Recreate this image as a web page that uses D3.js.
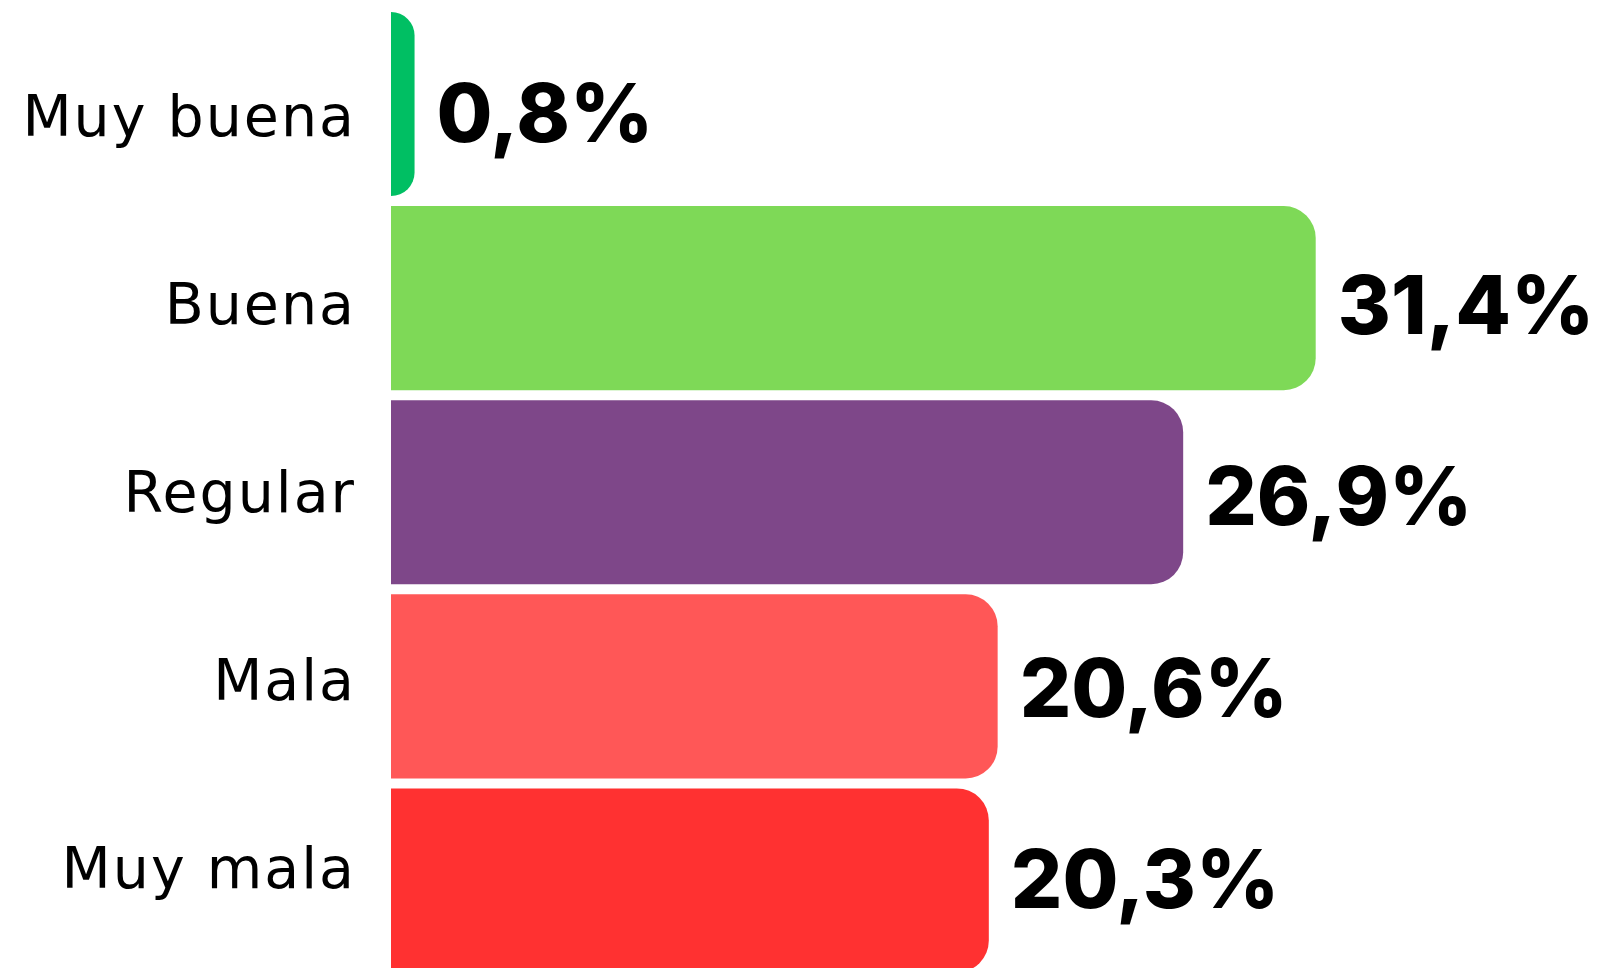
<!DOCTYPE html>
<html>
<head>
<meta charset="utf-8">
<script src="https://cdn.jsdelivr.net/npm/d3@7"></script>
<style>
  html, body { margin: 0; padding: 0; background: #ffffff; overflow: hidden; }
  svg { display: block; }
</style>
</head>
<body>
<svg id="chart" width="1613" height="968"></svg>
<script>
// ---- data ----
const categories = ["Muy buena", "Buena", "Regular", "Mala", "Muy mala"];
const values = [0.8, 31.4, 26.9, 20.6, 20.3];
const valueLabels = ["0,8%", "31,4%", "26,9%", "20,6%", "20,3%"];
const colors = ["#00BF63", "#7ED957", "#7E4789", "#FF5757", "#FF3131"];

// ---- layout ----
const svg = d3.select("#chart");

const x = d3.scaleLinear().domain([0, 31.4]).range([391, 1315.7]);
const y = d3.scaleBand().domain(categories).range([12, 972.5]).paddingInner(0.0515).paddingOuter(0);
const yCat = d3.scalePoint().domain(categories).range([136, 888]);
const yVal = d3.scalePoint().domain(categories).range([142, 908]);

const data = categories.map((c, i) => ({ cat: c, value: values[i], label: valueLabels[i], color: colors[i] }));

function barPath(x0, y0, w, h, rr) {
  const r = Math.min(rr, w, h / 2);
  return `M${x0},${y0}` +
    `H${x0 + w - r}` +
    `A${r},${r} 0 0 1 ${x0 + w},${y0 + r}` +
    `V${y0 + h - r}` +
    `A${r},${r} 0 0 1 ${x0 + w - r},${y0 + h}` +
    `H${x0}Z`;
}

svg.append("g").selectAll("path")
  .data(data)
  .join("path")
  .attr("d", d => barPath(x(0), y(d.cat), x(d.value) - x(0), y.bandwidth(), 32))
  .attr("fill", d => d.color);

svg.append("g").selectAll("text")
  .data(data)
  .join("text")
  .attr("x", 356)
  .attr("y", d => yCat(d.cat))
  .attr("text-anchor", "end")
  .attr("font-family", "'DejaVu Sans', sans-serif")
  .attr("font-size", 57)
  .attr("font-weight", 400)
  .attr("letter-spacing", 2)
  .attr("fill", "#000")
  .text(d => d.cat);

svg.append("g").selectAll("text")
  .data(data)
  .join("text")
  .attr("x", d => x(d.value) + 22)
  .attr("y", d => yVal(d.cat))
  .attr("text-anchor", "start")
  .attr("font-family", "Inter, 'DejaVu Sans', sans-serif")
  .attr("font-size", 81)
  .attr("font-weight", 800)
  .attr("fill", "#000")
  .text(d => d.label);
</script>
</body>
</html>
